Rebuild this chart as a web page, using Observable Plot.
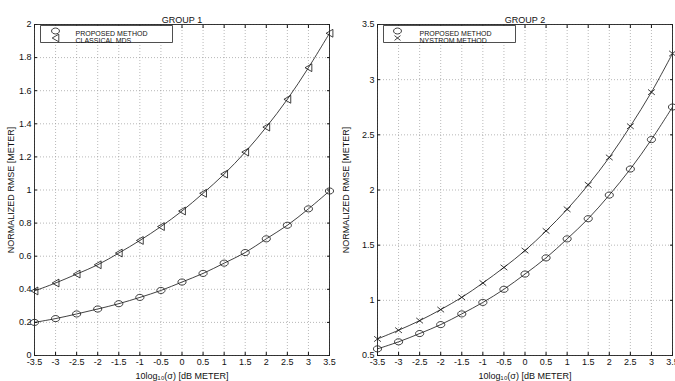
<!DOCTYPE html>
<html>
<head>
<meta charset="utf-8">
<script src="https://cdn.jsdelivr.net/npm/d3@7"></script>
<script src="https://cdn.jsdelivr.net/npm/@observablehq/plot@0.6"></script>
<style>
  html, body { margin: 0; padding: 0; background: #fff; }
  #wrap { position: relative; width: 675px; height: 381px; overflow: hidden; }
  #wrap > div { position: absolute; top: 0; }
  svg { font-family: "Liberation Sans", Arial, sans-serif; }
</style>
</head>
<body>
<div id="wrap"><div id="left" style="left:0"></div><div id="right" style="left:340px"></div></div>
<script>
// ---- data ----
const xValues = [-3.5, -3, -2.5, -2, -1.5, -1, -0.5, 0, 0.5, 1, 1.5, 2, 2.5, 3, 3.5];
const g1Proposed = [0.20, 0.223, 0.251, 0.281, 0.313, 0.351, 0.393, 0.444, 0.496, 0.558, 0.622, 0.705, 0.787, 0.886, 0.994];
const g1Classical = [0.39, 0.438, 0.492, 0.548, 0.619, 0.695, 0.779, 0.873, 0.98, 1.096, 1.229, 1.38, 1.548, 1.739, 1.947];
const g2Proposed = [0.56, 0.624, 0.699, 0.78, 0.877, 0.981, 1.10, 1.238, 1.385, 1.557, 1.74, 1.954, 2.19, 2.457, 2.752];
const g2Nystrom = [0.65, 0.729, 0.816, 0.916, 1.027, 1.157, 1.298, 1.451, 1.629, 1.825, 2.047, 2.295, 2.578, 2.887, 3.237];
const xTicks = [-3.5, -3, -2.5, -2, -1.5, -1, -0.5, 0, 0.5, 1, 1.5, 2, 2.5, 3, 3.5];
const yTicks1 = [0, 0.2, 0.4, 0.6, 0.8, 1, 1.2, 1.4, 1.6, 1.8, 2];
const yTicks2 = [0.5, 1, 1.5, 2, 2.5, 3, 3.5];
const titles = ["GROUP 1", "GROUP 2"];
const legend1 = ["PROPOSED METHOD", "CLASSICAL MDS"];
const legend2 = ["PROPOSED METHOD", "NYSTROM METHOD"];
const xLabel = "10log\u2081\u2080(\u03c3) [dB METER]";
const yLabel = "NORMALIZED RMSE [METER]";

// ---- symbols ----
const ellipse = {draw(ctx, size) {
  const r = Math.sqrt(size / Math.PI), rx = r * 1.2, ry = r * 0.9, k = 0.5523;
  ctx.moveTo(rx, 0);
  ctx.bezierCurveTo(rx, ry * k, rx * k, ry, 0, ry);
  ctx.bezierCurveTo(-rx * k, ry, -rx, ry * k, -rx, 0);
  ctx.bezierCurveTo(-rx, -ry * k, -rx * k, -ry, 0, -ry);
  ctx.bezierCurveTo(rx * k, -ry, rx, -ry * k, rx, 0);
  ctx.closePath();
}};
const triLeft = {draw(ctx, size) {
  const r = Math.sqrt(size / Math.PI);
  ctx.moveTo(-r, 0); ctx.lineTo(r, -r * 1.15); ctx.lineTo(r, r * 1.15); ctx.closePath();
}};
const cross = {draw(ctx, size) {
  const r = Math.sqrt(size / Math.PI);
  ctx.moveTo(-r, -r * 0.8); ctx.lineTo(r, r * 0.8);
  ctx.moveTo(-r, r * 0.8); ctx.lineTo(r, -r * 0.8);
}};
const box = {draw(ctx) { ctx.rect(0, 0, 132, 17); }};

function rows(values, series) { return xValues.map((x, i) => ({x, y: values[i], series})); }

function panel({width, marginLeft, marginRight, yDomain, yTicks, title, seriesA, seriesB, symA, symB, legend, yLabelOffset, legSym, legText}) {
  const a = rows(seriesA, legend[0]), b = rows(seriesB, legend[1]);
  const one = [0];
  return Plot.plot({
    width, height: 381, marginLeft, marginRight, marginTop: 24, marginBottom: 26,
    style: {fontFamily: "Liberation Sans, Arial, sans-serif", fontSize: "9px", color: "#111", overflow: "visible"},
    x: {domain: [-3.5, 3.5]},
    y: {domain: yDomain},
    marks: [
      Plot.gridX(xTicks, {stroke: "#999", strokeOpacity: 1, strokeDasharray: "1,2", strokeWidth: 0.7}),
      Plot.gridY(yTicks, {stroke: "#999", strokeOpacity: 1, strokeDasharray: "1,2", strokeWidth: 0.7}),
      Plot.axisX({ticks: xTicks, tickSize: 0, tickPadding: 3.5, tickFormat: d => String(d), label: xLabel, labelAnchor: "center", labelArrow: "none", labelOffset: 23, fontSize: 9}),
      Plot.axisX({anchor: "top", ticks: xTicks, tickSize: -3, text: null, label: null}),
      Plot.axisX({anchor: "bottom", ticks: xTicks, tickSize: -3, text: null, label: null}),
      Plot.axisY({ticks: yTicks, tickSize: 0, tickPadding: 3, tickFormat: d => String(d), label: yLabel, labelAnchor: "center", labelArrow: "none", labelOffset: yLabelOffset, fontSize: 9}),
      Plot.axisY({anchor: "left", ticks: yTicks, tickSize: -3, text: null, label: null}),
      Plot.axisY({anchor: "right", ticks: yTicks, tickSize: -3, text: null, label: null}),
      Plot.line(a, {x: "x", y: "y", curve: "catmull-rom", stroke: "#111", strokeWidth: 0.8}),
      Plot.line(b, {x: "x", y: "y", curve: "catmull-rom", stroke: "#111", strokeWidth: 0.8}),
      Plot.dot(a, {x: "x", y: "y", r: 3.4, symbol: symA, fill: "none", stroke: "#111", strokeWidth: 0.8}),
      Plot.dot(b, {x: "x", y: "y", r: 3.4, symbol: symB, fill: "none", stroke: "#111", strokeWidth: 0.8}),
      Plot.frame({stroke: "#222", strokeWidth: 0.9}),
      Plot.text(one, {text: () => title, frameAnchor: "top", dy: -8, fontSize: 9, fill: "#111"}),
      // legend
      Plot.dot(one, {frameAnchor: "top-left", dx: 6, dy: 1, r: 1, symbol: box, fill: "white", stroke: "#222", strokeWidth: 0.8}),
      Plot.dot(one, {frameAnchor: "top-left", dx: legSym, dy: 6.5, r: 3.3, symbol: symA, fill: "none", stroke: "#111", strokeWidth: 0.8}),
      Plot.dot(one, {frameAnchor: "top-left", dx: legSym, dy: 13.5, r: symB === cross ? 3 : 3.3, symbol: symB, fill: "none", stroke: "#111", strokeWidth: 0.8}),
      Plot.text(one, {text: () => legend[0], frameAnchor: "top-left", dx: legText, dy: 7, textAnchor: "start", fontSize: 7, fill: "#111"}),
      Plot.text(one, {text: () => legend[1], frameAnchor: "top-left", dx: legText, dy: 13.5, textAnchor: "start", fontSize: 7, fill: "#111"})
    ]
  });
}

document.getElementById("left").appendChild(panel({
  width: 340, marginLeft: 34, marginRight: 11, yDomain: [0, 2], yTicks: yTicks1, title: titles[0],
  seriesA: g1Proposed, seriesB: g1Classical, symA: ellipse, symB: triLeft, legend: legend1,
  yLabelOffset: 27, legSym: 21, legText: 41
}));
document.getElementById("right").appendChild(panel({
  width: 335, marginLeft: 37, marginRight: 3, yDomain: [0.5, 3.5], yTicks: yTicks2, title: titles[1],
  seriesA: g2Proposed, seriesB: g2Nystrom, symA: ellipse, symB: cross, legend: legend2,
  yLabelOffset: 35, legSym: 20, legText: 42
}));
</script>
</body>
</html>
